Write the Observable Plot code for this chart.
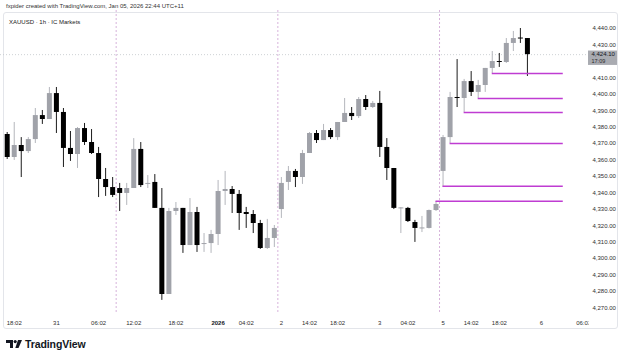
<!DOCTYPE html>
<html>
<head>
<meta charset="utf-8">
<script src="https://cdn.jsdelivr.net/npm/d3@7"></script>
<script src="https://cdn.jsdelivr.net/npm/@observablehq/plot@0.6"></script>
<style>
  html, body { margin: 0; padding: 0; background: #ffffff; }
  #wrap { position: relative; width: 625px; height: 360px; overflow: hidden; font-family: "Liberation Sans", Arial, sans-serif; }
  #box { position: absolute; left: 3px; top: 12px; width: 615px; height: 317px; border: 1px solid #e3e5ea; border-radius: 3px; box-sizing: border-box; }
  #chart { position: absolute; left: 0; top: 0; }
  .hdr { position: absolute; white-space: nowrap; color: #333; font-size: 6px; line-height: 1; }
  #h1 { left: 6px; top: 3px; }
  #h2 { left: 9px; top: 18.5px; color: #222; }
  #logo { position: absolute; left: 6px; top: 338px; display: flex; align-items: center; gap: 3px; }
  #logo span { font-family: "Liberation Sans", Arial, sans-serif; font-weight: bold; font-size: 10.5px; color: #131722; letter-spacing: -0.1px; }
</style>
</head>
<body>
<div id="wrap">
  <div id="box"></div>
  <div id="chart"></div>
  <div class="hdr" id="h1">fxpider created with TradingView.com, Jan 05, 2026 22:44 UTC+11</div>
  <div class="hdr" id="h2">XAUUSD · 1h · IC Markets</div>
  <div id="logo">
    <svg width="16" height="8" viewBox="0 0 16 8">
      <path d="M0 0 H7 V8 H4 V3 H0 Z" fill="#131722"/>
      <circle cx="9.2" cy="1.6" r="1.6" fill="#131722"/>
      <path d="M12 0 H16 L12.5 8 H9.3 Z" fill="#131722"/>
    </svg>
    <span>TradingView</span>
  </div>
</div>
<script>
// ---- data (XAUUSD 1h, IC Markets) ----
const opens  = [4375.5,4361.5,4368.8,4365.1,4372.4,4387.0,4384.6,4400.4,4388.9,4367.0,
                4363.3,4379.1,4370.6,4363.9,4348.1,4343.2,4342.6,4339.6,4342.6,4366.4,
                4345.1,4346.3,4330.5,4278.1,4328.6,4330.5,4307.9,4328.0,4308.5,4309.1,
                4314.6,4340.8,4342.0,4339.0,4328.0,4326.8,4321.3,4306.1,4312.2,4329.8,
                4346.3,4353.0,4349.3,4363.9,4376.1,4371.8,4377.9,4373.6,4382.8,4388.3,
                4386.4,4396.8,4391.9,4394.4,4367.6,4354.8,4330.2,4330.5,4321.9,4318.0,
                4318.3,4329.2,4353.0,4373.6,4398.0,4397.4,4407.7,4401.1,4405.3,4415.7,
                4419.9,4419.3,4430.9,4434.2,4433.9];
const highs  = [4376.7,4382.8,4373.6,4373.6,4391.3,4390.1,4404.1,4404.1,4391.3,4377.3,
                4379.7,4382.2,4378.5,4367.6,4354.8,4349.3,4345.7,4345.7,4373.0,4370.6,
                4350.5,4351.1,4342.6,4330.5,4334.1,4330.5,4336.5,4331.1,4315.2,4317.1,
                4347.5,4353.0,4343.8,4341.4,4331.1,4329.2,4323.2,4323.8,4320.1,4349.3,
                4356.0,4354.2,4365.8,4376.7,4377.9,4381.6,4379.1,4382.8,4397.4,4391.9,
                4398.0,4399.2,4395.6,4401.7,4373.0,4354.8,4331.0,4331.1,4323.2,4325.6,
                4329.5,4334.7,4374.9,4401.1,4421.1,4409.0,4413.8,4408.4,4415.7,4426.0,
                4424.8,4433.9,4438.2,4440.0,4433.9];
const lows   = [4360.3,4359.7,4349.3,4363.9,4370.0,4381.6,4384.6,4376.1,4355.4,4359.1,
                4354.8,4368.8,4363.3,4337.1,4337.8,4337.1,4328.6,4332.3,4342.6,4343.2,
                4342.6,4330.5,4274.5,4278.1,4326.2,4303.1,4307.9,4303.7,4303.7,4303.1,
                4307.9,4332.3,4327.4,4317.1,4318.3,4315.2,4305.5,4305.5,4306.7,4324.4,
                4341.4,4343.2,4345.1,4363.9,4370.0,4371.8,4372.4,4371.8,4382.8,4384.0,
                4385.2,4390.1,4391.3,4361.5,4347.5,4329.8,4315.2,4321.9,4309.8,4315.8,
                4318.0,4328.6,4343.2,4370.0,4391.9,4388.9,4398.6,4397.4,4401.1,4412.6,
                4416.3,4418.7,4426.0,4430.9,4410.8];
const closes = [4361.5,4368.8,4365.1,4372.4,4387.0,4384.6,4400.4,4388.9,4367.0,4363.3,
                4379.1,4370.6,4363.9,4348.1,4343.2,4338.4,4339.6,4342.6,4366.4,4344.4,
                4345.7,4330.5,4278.1,4328.6,4330.5,4307.9,4328.0,4307.9,4309.1,4314.6,
                4340.8,4342.0,4339.0,4327.4,4326.8,4321.3,4306.1,4312.2,4318.3,4345.7,
                4353.0,4349.3,4363.9,4376.1,4371.8,4377.9,4373.6,4382.8,4388.3,4386.4,
                4396.8,4391.9,4394.4,4367.6,4354.8,4330.5,4330.8,4322.5,4318.3,4318.6,
                4329.2,4332.9,4373.6,4398.0,4397.4,4407.7,4401.1,4405.3,4415.7,4419.9,
                4419.3,4430.9,4433.9,4433.6,4424.1];

// time axis (bar index -> label)
const timeTickIdx    = [1, 7, 13, 18, 24, 30, 34, 39, 43, 47, 53, 57, 62, 66, 70, 76, 82];
const timeTickLabels = ["18:02","31","06:02","12:02","18:02","2026","04:02","2","14:02","18:02","3","04:02","5","14:02","18:02","6","06:02"];
const boldTickLabels = ["2026"];

// session breaks (between bars)
const sessionBreaks = [15.5, 38.5, 61.5];

// price axis
const priceTicks = [4270,4280,4290,4300,4310,4320,4330,4340,4350,4360,4370,4380,4390,4400,4410,4430,4440];

// horizontal levels (start bar, price)
const levelStart = [61, 62, 63, 65, 67, 69];
const levelPrice = [4334.9, 4344.0, 4370.0, 4388.9, 4397.4, 4412.6];
const levelEndIdx = 79.1;

const lastPriceLabel = "4,424.10";
const countdownLabel = "17:09";

// ---- build tables ----
const bars = opens.map((o, i) => ({
  i, open: o, high: highs[i], low: lows[i], close: closes[i], up: closes[i] >= o
}));
const levels = levelStart.map((s, k) => ({ start: s, end: levelEndIdx, price: levelPrice[k] }));
const labelOf = new Map(timeTickIdx.map((t, k) => [t, timeTickLabels[k]]));
const normalTicks = timeTickIdx.filter(t => !boldTickLabels.includes(labelOf.get(t)));
const boldTicks = timeTickIdx.filter(t => boldTickLabels.includes(labelOf.get(t)));
const lastClose = closes[closes.length - 1];

const upBody = "#a0a2a9", upWick = "#b4b6bc";
const dnBody = "#000000", dnWick = "#1c1c1c";
const levelColor = "#bf3cd2";

const W = 625, H = 360, mL = 0, mR = 37, mT = 10, mB = 46;

const chart = Plot.plot({
  width: W, height: H,
  marginLeft: mL, marginRight: mR, marginTop: mT, marginBottom: mB,
  style: { fontFamily: "'Liberation Sans', Arial, sans-serif", fontSize: "6px", color: "#333", background: "transparent", overflow: "visible" },
  x: { type: "linear", domain: [-0.953, 82.69] },
  y: { type: "linear", domain: [4265.92, 4450.96] },
  marks: [
    Plot.ruleX(sessionBreaks, { stroke: "#d7b3db", strokeWidth: 1, strokeDasharray: "2,2" }),
    Plot.ruleY([lastClose], { stroke: "#c3c6cc", strokeWidth: 0.8, strokeDasharray: "1,2" }),
    Plot.ruleX(bars, { x: "i", y1: "low", y2: "high", stroke: d => d.up ? upWick : dnWick, strokeWidth: 1 }),
    Plot.ruleX(bars, { x: "i", y1: "open", y2: "close", stroke: d => d.up ? upBody : dnBody, strokeWidth: 5 }),
    Plot.ruleY(levels, { y: "price", x1: "start", x2: "end", stroke: levelColor, strokeWidth: 1.5 }),
    Plot.axisY(priceTicks, { anchor: "right", tickSize: 0, tickPadding: 4, tickFormat: d3.format(",.2f"), fill: "#2e2e2e", fontSize: 6 }),
    Plot.axisX(normalTicks, { anchor: "bottom", tickSize: 0, tickPadding: 6.5, tickFormat: d => labelOf.get(d), fill: "#2e2e2e", fontSize: 6, label: null }),
    Plot.axisX(boldTicks, { anchor: "bottom", tickSize: 0, tickPadding: 6.5, tickFormat: d => labelOf.get(d), fill: "#131722", fontSize: 6, fontWeight: "bold", label: null })
  ]
});

document.getElementById("chart").appendChild(chart);

const svg = d3.select(chart);
const frameRight = W - mR;

// clip time-axis labels at the price-scale edge
svg.append("defs").append("clipPath").attr("id", "timeclip")
  .append("rect").attr("x", 0).attr("y", 0).attr("width", frameRight).attr("height", H);
svg.selectAll('g[aria-label="x-axis tick label"]').attr("clip-path", "url(#timeclip)");

// last price label box on price scale
const yPix = chart.scale("y").apply(lastClose);
const g = svg.append("g").attr("text-anchor", "start");
g.append("rect").attr("x", frameRight).attr("y", yPix - 3.6).attr("width", 29).attr("height", 14.4)
  .attr("fill", "#a9abb1");
g.append("text").attr("x", frameRight + 3.5).attr("y", yPix + 2.1)
  .attr("font-size", 6).attr("font-family", "'Liberation Sans', Arial, sans-serif").attr("fill", "#131722")
  .text(lastPriceLabel);
g.append("text").attr("x", frameRight + 3.5).attr("y", yPix + 8.6)
  .attr("font-size", 5.5).attr("font-family", "'Liberation Sans', Arial, sans-serif").attr("fill", "#2a2a2a")
  .text(countdownLabel);
</script>
</body>
</html>
